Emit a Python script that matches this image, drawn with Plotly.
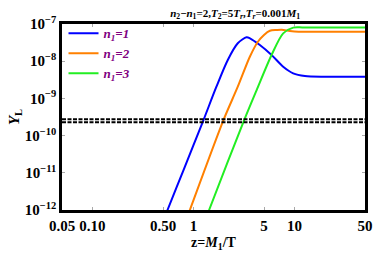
import plotly.graph_objects as go

# ---- data ----
z_n1 = [0.50, 0.554, 0.80, 1.25, 1.69, 2.19, 2.75, 3.36, 3.63, 4.55, 5.94, 7.74, 9.73, 12.7, 20, 50]
y_n1 = [4.9e-13, 1.0e-12, 1.2e-11, 2.5e-10, 2.06e-9, 1.08e-8, 3.03e-8, 4.39e-8, 4.13e-8, 2.72e-8,
        1.47e-8, 7.1e-9, 4.73e-9, 4.0e-9, 3.83e-9, 3.83e-9]

z_n2 = [0.85, 0.922, 1.97, 2.75, 3.62, 4.35, 5.0, 5.72, 6.66, 7.5, 9.0, 11, 20, 50]
y_n2 = [5.5e-13, 1.0e-12, 2.5e-10, 2.06e-9, 1.32e-8, 3.34e-8, 5.1e-8, 6.6e-8, 6.9e-8, 7.0e-8,
        6.5e-8, 6.2e-8, 6.2e-8, 6.2e-8]

z_n3 = [1.35, 1.43, 3.16, 4.23, 5.94, 7.74, 9.73, 12, 20, 50]
y_n3 = [6.6e-13, 1.0e-12, 2.5e-10, 1.68e-9, 1.47e-8, 5.6e-8, 8.0e-8, 8.1e-8, 8.1e-8, 8.1e-8]

obs_bounds = [2.74e-10, 2.28e-10]
z_range = [0.05, 50]

series_names = ["<b><i>n<sub>1</sub>=1</i></b>", "<b><i>n<sub>1</sub>=2</i></b>", "<b><i>n<sub>1</sub>=3</i></b>"]
series_colors = ["#0000FF", "#FF8000", "#22EE22"]

x_tickvals = [0.05, 0.1, 0.5, 1, 5, 10, 50]
x_ticktext = ["<b>0.05</b>", "<b>0.10</b>", "<b>0.50</b>", "<b>1</b>", "<b>5</b>", "<b>10</b>", "<b>50</b>"]
y_tickvals = [1e-12, 1e-11, 1e-10, 1e-9, 1e-8, 1e-7]
y_ticktext = ["<b>10<sup>\u221212</sup></b>", "<b>10<sup>\u221211</sup></b>", "<b>10<sup>\u221210</sup></b>",
              "<b>10<sup>\u22129</sup></b>", "<b>10<sup>\u22128</sup></b>", "<b>10<sup>\u22127</sup></b>"]

FONT = "Liberation Serif"

fig = go.Figure()
for zs, ys, name, col in zip([z_n1, z_n2, z_n3], [y_n1, y_n2, y_n3], series_names, series_colors):
    fig.add_trace(go.Scatter(x=zs, y=ys, mode="lines", name=name,
                             line=dict(color=col, width=2, shape="spline", smoothing=0.8)))

for yb in obs_bounds:
    fig.add_trace(go.Scatter(x=z_range, y=[yb, yb], mode="lines", showlegend=False,
                             line=dict(color="black", width=2, dash="4px,1.5px")))

fig.update_layout(
    width=374, height=253,
    margin=dict(l=62, r=9, t=24, b=43, autoexpand=False),
    paper_bgcolor="white", plot_bgcolor="white",
    font=dict(family=FONT, color="black"),
    title=dict(text="<b><i>n</i><sub>2</sub>\u2212<i>n</i><sub>1</sub>=2,<i>T</i><sub>2</sub>=5<i>T<sub>r</sub></i>,"
                    "<i>T<sub>r</sub></i>=0.001<i>M</i><sub>1</sub></b>",
               x=0.5715, xanchor="center", xref="paper", y=0.95, yanchor="middle",
               font=dict(size=11, family=FONT), automargin=False),
    showlegend=True,
    legend=dict(x=0.005, y=1.03, xanchor="left", yanchor="top", bgcolor="rgba(0,0,0,0)",
                font=dict(size=13, color="#800080", family=FONT), itemwidth=30,
                tracegroupgap=0),
)

fig.update_xaxes(type="log", range=[-1.30103, 1.69897], automargin=False,
                 tickvals=x_tickvals, ticktext=x_ticktext,
                 tickfont=dict(size=15, family=FONT),
                 showgrid=False, zeroline=False,
                 showline=True, linecolor="black", linewidth=2.5, mirror="allticks",
                 ticks="inside", ticklen=3, tickcolor="#aaaaaa", tickwidth=1,
                 title=dict(text="<b>z=<i>M</i><sub>1</sub>/T</b>", font=dict(size=14, family=FONT), standoff=5))
fig.update_yaxes(type="log", range=[-12, -7], automargin=False,
                 tickvals=y_tickvals, ticktext=y_ticktext,
                 tickfont=dict(size=15, family=FONT),
                 showgrid=False, zeroline=False,
                 showline=True, linecolor="black", linewidth=2.5, mirror="allticks",
                 ticks="inside", ticklen=3, tickcolor="#aaaaaa", tickwidth=1,
                 title=dict(text="<b><i>Y</i><sub>L</sub></b>", font=dict(size=15, family=FONT), standoff=2))

fig.write_html("out.html", config={"displayModeBar": False},
               post_script="document.body.style.margin='0';document.body.style.overflow='hidden';")
